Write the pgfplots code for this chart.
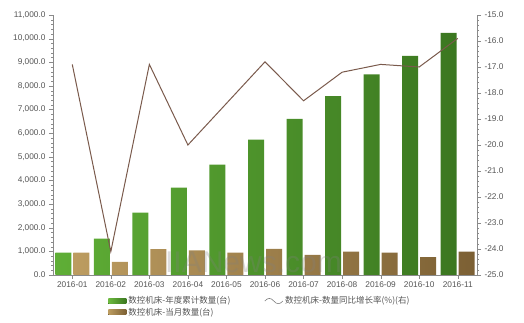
\documentclass[border=0pt]{standalone}
\usepackage{pgfplots}
\pgfplotsset{compat=1.18}
\usepackage{fontspec}
\setmainfont{Liberation Sans}
\newfontfamily\cjk{Noto Sans CJK SC}
\definecolor{gL}{HTML}{5FAE36}
\definecolor{gM}{HTML}{6CB93F}
\definecolor{gD}{HTML}{3B7720}
\definecolor{bL}{HTML}{BC9C60}
\definecolor{bD}{HTML}{7C6034}
\definecolor{lineC}{HTML}{7A5A4C}
\definecolor{txt}{HTML}{555555}
\definecolor{axc}{HTML}{8A8A8A}
\begin{document}
\begin{tikzpicture}
\useasboundingbox (0pt,0pt) rectangle (524pt,323pt);
\begin{axis}[
  at={(53pt,48pt)}, anchor=south west,
  scale only axis, width=424pt, height=260pt,
  xmin=-0.5, xmax=10.5, ymin=0, ymax=11000,
  ybar=2pt, bar width=16pt,
  axis lines*=left,
  axis line style={axc},
  xtick={0,...,10},
  xticklabels={2016-01,2016-02,2016-03,2016-04,2016-05,2016-06,2016-07,2016-08,2016-09,2016-10,2016-11},
  ytick={0,1000,...,11000},
  minor y tick num=4,
  tick align=outside,
  major tick length=4pt, minor tick length=2pt,
  tick style={axc},
  scaled y ticks=false,
  /pgf/number format/assume math mode=true,
  yticklabel style={/pgf/number format/.cd, fixed, fixed zerofill, precision=1, 1000 sep={,}},
  tick label style={font=\fontsize{8.3}{9}\selectfont, text=txt},
  xticklabel style={yshift=1pt},
  legend columns=2,
  legend cell align=left,
  legend style={at={(0.13,-0.075)}, anchor=north west, draw=none, fill=none,
    font=\cjk\fontsize{8.5}{9.5}\selectfont, text=txt, inner sep=0pt,
    row sep=-1.5pt,
    /tikz/every even column/.append style={column sep=32pt}},
]
\addplot[draw=none, left color=gL, middle color=gM, right color=gD,
  legend image code/.code={\fill[left color=gM, right color=gD] (0pt,-2.5pt) rectangle (18pt,2.5pt);}]
  coordinates {(0,950) (1,1540) (2,2640) (3,3700) (4,4670) (5,5730) (6,6600) (7,7570) (8,8490) (9,9270) (10,10240)};
\addlegendentry{数控机床-年度累计数量(台)}
\addlegendimage{legend image code/.code={\draw[gray, line width=0.6pt] (0pt,0pt) .. controls (3pt,3.5pt) and (6pt,3.5pt) .. (9pt,0pt) .. controls (12pt,-3.5pt) and (15pt,-3.5pt) .. (18pt,0pt);}}
\addlegendentry{数控机床-数量同比增长率(\%)(右)}
\addplot[draw=none, left color=bL, right color=bD,
  legend image code/.code={\fill[left color=bL, right color=bD] (0pt,-2.5pt) rectangle (18pt,2.5pt);}]
  coordinates {(0,950) (1,550) (2,1090) (3,1045) (4,945) (5,1100) (6,850) (7,990) (8,945) (9,760) (10,990)};
\addlegendentry{数控机床-当月数量(台)}
\node[font=\fontsize{30}{30}\selectfont, text=gray, opacity=0.28] at (axis cs:4.7,550) {IIANews.com};
\end{axis}
\begin{axis}[
  at={(53pt,48pt)}, anchor=south west,
  scale only axis, width=424pt, height=260pt,
  xmin=-0.5, xmax=10.5, ymin=-25, ymax=-15,
  axis x line=none,
  axis y line*=right,
  axis line style={axc},
  ytick={-25,-24,...,-15},
  minor y tick num=4,
  tick align=outside,
  major tick length=4pt, minor tick length=2pt,
  tick style={axc},
  /pgf/number format/assume math mode=true,
  yticklabel style={/pgf/number format/.cd, fixed, fixed zerofill, precision=1},
  tick label style={font=\fontsize{8.3}{9}\selectfont, text=txt},
]
\addplot[color=lineC, line width=1pt, mark=none]
  coordinates {(0,-16.9) (1,-24.1) (2,-16.9) (3,-20.0) (4,-18.4) (5,-16.8) (6,-18.3) (7,-17.2) (8,-16.9) (9,-17.0) (10,-15.9)};
\end{axis}
\end{tikzpicture}
\end{document}
